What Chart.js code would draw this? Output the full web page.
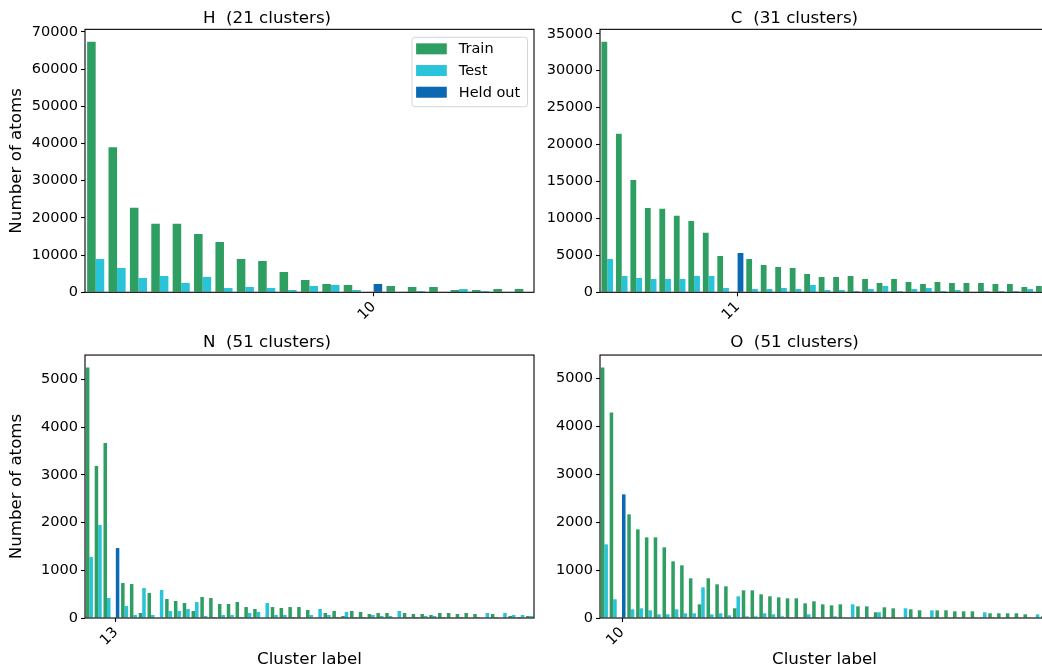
<!DOCTYPE html>
<html>
<head>
<meta charset="utf-8">
<title>Atoms per cluster</title>
<script src="https://cdn.jsdelivr.net/npm/chart.js@4/dist/chart.umd.min.js"></script>
<style>
  html, body { margin: 0; padding: 0; background: #fff; overflow: hidden; width: 1042px; height: 671px; }
  canvas { position: absolute; }
</style>
</head>
<body>
<canvas id="panelH" width="545" height="330" style="left:0;top:0"></canvas>
<canvas id="panelC" width="520" height="330" style="left:540px;top:0"></canvas>
<canvas id="panelN" width="545" height="341" style="left:0;top:330px"></canvas>
<canvas id="panelO" width="520" height="341" style="left:540px;top:330px"></canvas>
<script>
// Atom counts per cluster, clusters ordered by training count.
const hTrain = [67300, 39000, 22700, 18400, 18400, 15700, 13500, 8950, 8400, 5450, 3300, 2230, 1960, 0, 1700, 1420, 1420, 620, 620, 890, 890];
const hTest  = [8950, 6530, 3850, 4380, 2500, 4100, 1160, 1420, 1160, 620, 1700, 1960, 620, 0, 0, 350, 0, 890, 350, 0, 0];
const hHeldAt = 13, hHeldValue = 2230, hHeldLabel = '10';

const cTrain = [33900, 21450, 15200, 11400, 11300, 10350, 9650, 8050, 4900, 0, 4500, 3700, 3430, 3300, 2480, 2070, 2070, 2210, 1800, 1260, 1800, 1400, 1130, 1400, 1260, 1260, 1260, 1130, 1130, 720, 850];
const cTest  = [4500, 2200, 1950, 1800, 1800, 1800, 2200, 2200, 580, 0, 450, 450, 580, 450, 990, 310, 310, 180, 450, 850, 180, 450, 580, 180, 310, 0, 180, 180, 180, 450, 0];
const cHeldAt = 9, cHeldValue = 5330, cHeldLabel = '11';

const nTrain = [5250, 3184, 3666, 0, 733, 712, 105, 524, 0, 398, 356, 314, 147, 440, 419, 293, 293, 335, 230, 189, 0, 230, 210, 230, 230, 168, 0, 105, 147, 42, 147, 126, 84, 105, 105, 0, 105, 84, 84, 63, 105, 105, 84, 105, 84, 0, 84, 0, 42, 21, 42];
const nTest  = [1278, 1948, 419, 0, 251, 63, 628, 63, 587, 147, 147, 189, 335, 42, 21, 63, 63, 21, 105, 126, 314, 63, 63, 21, 0, 63, 189, 63, 21, 126, 21, 21, 63, 42, 42, 147, 21, 21, 42, 42, 21, 0, 21, 0, 21, 105, 21, 105, 63, 63, 42];
const nHeldAt = 3, nHeldValue = 1466, nHeldLabel = '13';

const oTrain = [5220, 4285, 0, 2160, 1848, 1681, 1681, 1473, 1181, 1098, 827, 285, 827, 702, 660, 202, 577, 577, 494, 452, 431, 410, 410, 306, 348, 285, 264, 285, 0, 243, 243, 119, 223, 202, 0, 181, 160, 0, 160, 160, 140, 140, 140, 15, 98, 98, 98, 98, 77, 0, 40];
const oTest  = [1535, 390, 0, 181, 202, 160, 77, 77, 181, 98, 98, 639, 77, 98, 56, 452, 35, 35, 98, 77, 35, 15, 15, 77, 15, 15, 35, 0, 285, 15, 15, 119, 15, 0, 202, 0, 0, 160, 0, 0, 15, 0, 15, 119, 15, 0, 0, 0, 15, 77, 0];
const oHeldAt = 2, oHeldValue = 2577, oHeldLabel = '10';

const seriesNames = ['Train', 'Test', 'Held out'];
const seriesColors = ['#2f9e62', '#29c3da', '#0b68b3'];

const FONT = 'DejaVu Sans';
Chart.defaults.font.family = FONT;
Chart.defaults.color = '#000';

// Full box around the plotting area.
const frame = {
  id: 'frame',
  afterDatasetsDraw(chart) {
    const { ctx, chartArea: a } = chart;
    ctx.save();
    ctx.strokeStyle = '#000';
    ctx.lineWidth = 1.1;
    ctx.strokeRect(a.left, a.top, a.right - a.left, a.bottom - a.top);
    ctx.restore();
  }
};

// Boxed legend in the upper right corner of the plotting area.
const boxedLegend = {
  id: 'boxedLegend',
  afterDatasetsDraw(chart, args, opts) {
    if (!opts.show) return;
    const { ctx, chartArea: a } = chart;
    const w = 115.5, h = 69.5;
    const x = a.right - 7 - w, y = a.top + 7.4;
    ctx.save();
    ctx.beginPath();
    ctx.roundRect(x + 0.5, y + 0.5, w, h, 3);
    ctx.fillStyle = 'rgba(255,255,255,0.8)';
    ctx.fill();
    ctx.strokeStyle = '#d5d5d5';
    ctx.lineWidth = 1;
    ctx.stroke();
    ctx.font = '14.5px "' + FONT + '"';
    ctx.textBaseline = 'middle';
    chart.data.datasets.forEach((ds, i) => {
      const ry = y + 6.6 + i * 21.7;
      ctx.fillStyle = ds.backgroundColor;
      ctx.fillRect(x + 4.6, ry, 30.7, 11);
      ctx.fillStyle = '#000';
      ctx.fillText(ds.label, x + 47.3, ry + 6);
    });
    ctx.restore();
  }
};

function panel(id, p) {
  const idx = p.train.map((_, i) => i);
  const heldSeries = idx.map(i => (i === p.heldAt ? p.heldValue : null));
  const top = Math.max(...p.train, ...p.test, p.heldValue) * 1.05;
  return new Chart(document.getElementById(id), {
    type: 'bar',
    data: {
      labels: idx,
      datasets: [
        { label: seriesNames[0], data: p.train, backgroundColor: seriesColors[0], stack: 'left' },
        { label: seriesNames[1], data: p.test, backgroundColor: seriesColors[1], stack: 'right' },
        { label: seriesNames[2], data: heldSeries, backgroundColor: seriesColors[2], stack: 'right' }
      ]
    },
    options: {
      responsive: false,
      animation: false,
      devicePixelRatio: 1,
      categoryPercentage: 0.8,
      barPercentage: 1.0,
      borderWidth: 0,
      layout: { padding: { left: 0, right: 11, top: 0, bottom: 0 } },
      plugins: {
        legend: { display: false },
        tooltip: { enabled: false },
        boxedLegend: { show: p.legend },
        title: {
          display: true,
          text: p.title,
          color: '#000',
          font: { size: 16.7, weight: 'normal', family: FONT },
          padding: p.titlePad
        }
      },
      scales: {
        x: {
          type: 'category',
          offset: true,
          border: { display: false },
          grid: {
            offset: false,
            drawOnChartArea: false,
            drawTicks: true,
            tickLength: 4,
            tickWidth: 1.1,
            tickColor: (ctx) => (ctx.index === p.heldAt ? '#000' : 'rgba(0,0,0,0)')
          },
          ticks: {
            autoSkip: false,
            minRotation: 45,
            maxRotation: 45,
            padding: 2,
            color: '#000',
            font: { size: 14.5, family: FONT },
            callback: (v, i) => (i === p.heldAt ? p.heldLabel : '')
          },
          title: {
            display: p.xTitle,
            text: 'Cluster label',
            color: '#000',
            font: { size: 16.7, family: FONT },
            padding: { top: 0, bottom: 1 }
          },
          afterFit: (s) => { s.height = p.xHeight; }
        },
        y: {
          min: 0,
          max: top,
          border: { display: false },
          grid: { drawOnChartArea: false, drawTicks: true, tickLength: 4, tickWidth: 1.1, tickColor: '#000' },
          ticks: {
            padding: 3,
            color: '#000',
            font: { size: 14.5, family: FONT },
            callback: (v) => String(v)
          },
          // Round-number ticks every `step` up to the axis top.
          afterBuildTicks: (s) => {
            const ticks = [];
            for (let v = 0; v <= s.max; v += p.step) ticks.push({ value: v });
            s.ticks = ticks;
          },
          title: {
            display: p.yTitle,
            text: 'Number of atoms',
            color: '#000',
            font: { size: 16.7, family: FONT },
            padding: { top: 7, bottom: 0 }
          },
          afterFit: (s) => { s.width = p.yWidth; }
        }
      }
    },
    plugins: [frame, boxedLegend]
  });
}

const topTitlePad = { top: 8.3, bottom: 1 };
const bottomTitlePad = { top: 3, bottom: 2 };

panel('panelH', { title: 'H  (21 clusters)', train: hTrain, test: hTest, heldAt: hHeldAt, heldValue: hHeldValue, heldLabel: hHeldLabel,
  step: 10000, yTitle: true, xTitle: false, legend: true, yWidth: 85, xHeight: 37.7, titlePad: topTitlePad });
panel('panelC', { title: 'C  (31 clusters)', train: cTrain, test: cTest, heldAt: cHeldAt, heldValue: cHeldValue, heldLabel: cHeldLabel,
  step: 5000, yTitle: false, xTitle: false, legend: false, yWidth: 60, xHeight: 37.7, titlePad: topTitlePad });
panel('panelN', { title: 'N  (51 clusters)', train: nTrain, test: nTest, heldAt: nHeldAt, heldValue: nHeldValue, heldLabel: nHeldLabel,
  step: 1000, yTitle: true, xTitle: true, legend: false, yWidth: 85, xHeight: 53, titlePad: bottomTitlePad });
panel('panelO', { title: 'O  (51 clusters)', train: oTrain, test: oTest, heldAt: oHeldAt, heldValue: oHeldValue, heldLabel: oHeldLabel,
  step: 1000, yTitle: false, xTitle: true, legend: false, yWidth: 60, xHeight: 53, titlePad: bottomTitlePad });
</script>
</body>
</html>
